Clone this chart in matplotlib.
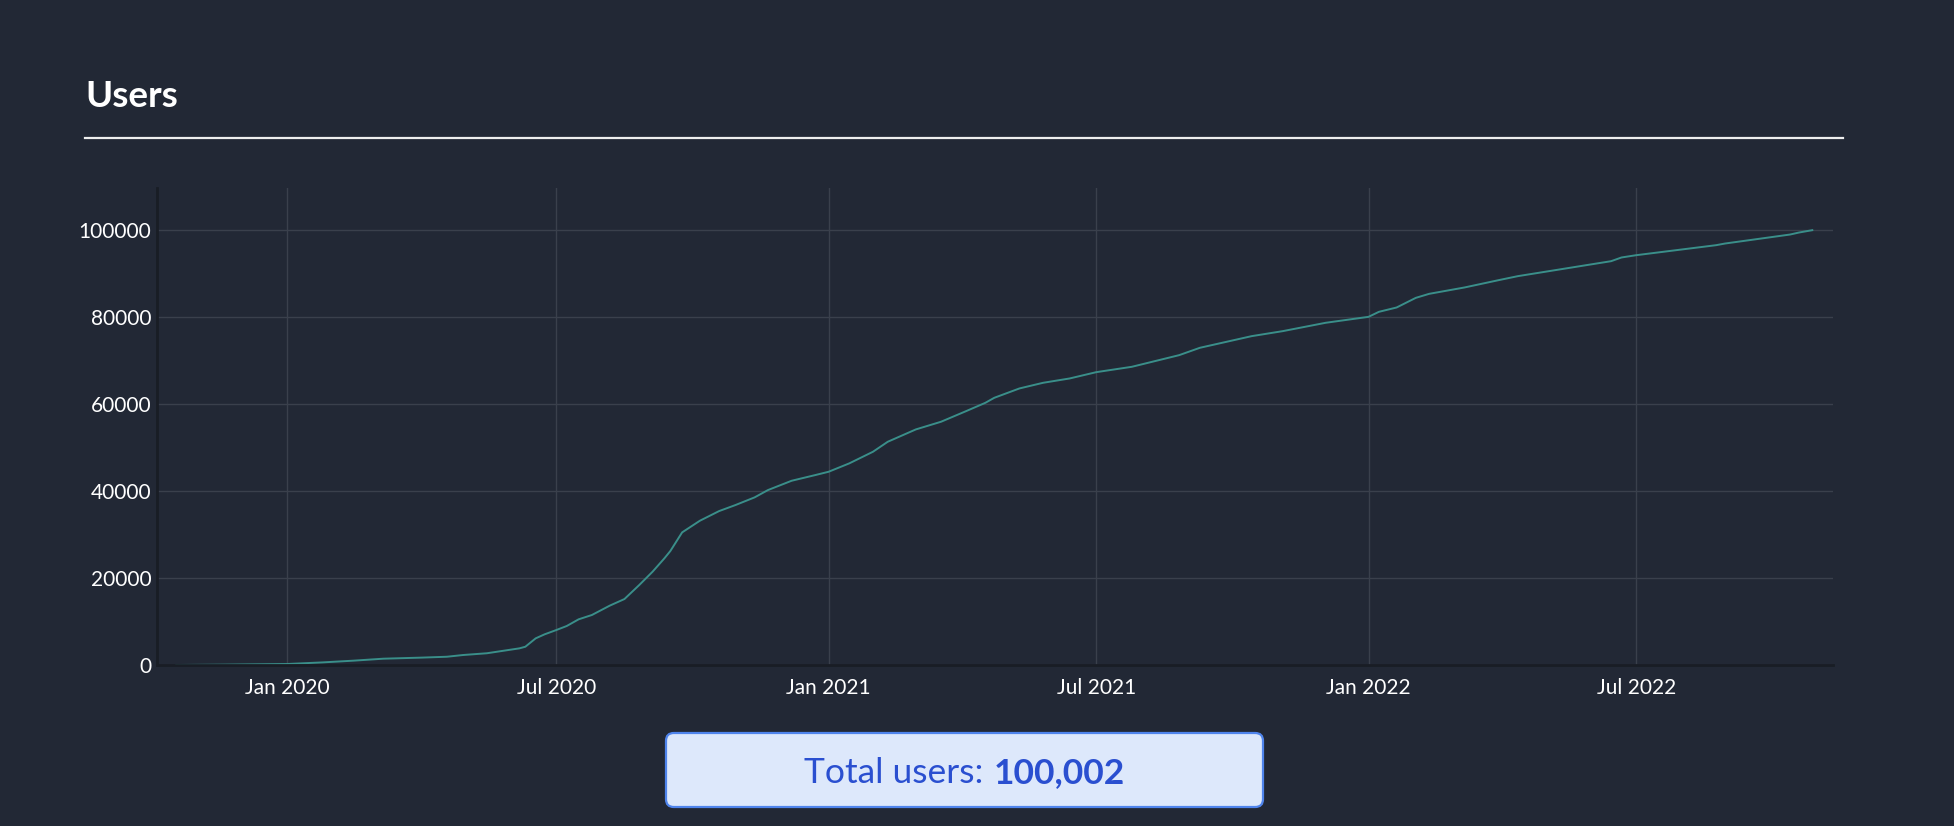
import matplotlib
matplotlib.use("Agg")
import matplotlib.pyplot as plt
import matplotlib.dates as mdates
from matplotlib.patches import FancyBboxPatch
import pandas as pd

# ---------------- data ----------------
dates = [
    "2019-10-18", "2019-11-20", "2019-12-15", "2020-01-01", "2020-01-25", "2020-02-15",
    "2020-03-06", "2020-04-01", "2020-04-18", "2020-04-29", "2020-05-15", "2020-06-06",
    "2020-06-10", "2020-06-17", "2020-06-23", "2020-07-01", "2020-07-08", "2020-07-16",
    "2020-07-25", "2020-08-06", "2020-08-16", "2020-08-26", "2020-09-04", "2020-09-12",
    "2020-09-16", "2020-09-24", "2020-10-06", "2020-10-19", "2020-10-30", "2020-11-12",
    "2020-11-21", "2020-12-07", "2020-12-23", "2021-01-01", "2021-01-15", "2021-01-31",
    "2021-02-10", "2021-03-01", "2021-03-18", "2021-04-04", "2021-04-17", "2021-04-23",
    "2021-05-10", "2021-05-26", "2021-06-13", "2021-07-01", "2021-07-25", "2021-08-26",
    "2021-09-09", "2021-10-14", "2021-11-04", "2021-12-03", "2022-01-01", "2022-01-08",
    "2022-01-20", "2022-02-02", "2022-02-11", "2022-03-07", "2022-03-30", "2022-04-12",
    "2022-06-14", "2022-06-21", "2022-07-01", "2022-08-24", "2022-08-30", "2022-10-13",
    "2022-10-19", "2022-10-28",
]
users = [
    0, 80, 170, 230, 600, 1000,
    1450, 1700, 1900, 2300, 2700, 3830,
    4200, 6130, 7050, 8050, 8970, 10500,
    11500, 13640, 15170, 18390, 21450, 24530,
    26200, 30500, 33180, 35400, 36780, 38550,
    40230, 42370, 43680, 44440, 46370, 49040,
    51340, 54180, 55940, 58390, 60300, 61450,
    63600, 64900, 65900, 67350, 68580, 71260,
    72950, 75630, 76780, 78700, 80070, 81220,
    82220, 84440, 85360, 86830, 88510, 89430,
    92870, 93720, 94250, 96550, 96930, 99000,
    99460, 100002,
]
x_ticks = ["2020-01-01", "2020-07-01", "2021-01-01", "2021-07-01", "2022-01-01", "2022-07-01"]
x_tick_labels = ["Jan 2020", "Jul 2020", "Jan 2021", "Jul 2021", "Jan 2022", "Jul 2022"]
y_ticks = [0, 20000, 40000, 60000, 80000, 100000]
title = "Users"
total_label = "Total users: "

# ---------------- style ----------------
BG = "#222835"
GRID = "#3a404c"
SPINE = "#191d25"
LINE = "#3a8f8a"
TXT = "#ffffff"
FONT = ["Lato", "DejaVu Sans"]
plt.rcParams["font.family"] = FONT

W, H = 1954, 826
fig = plt.figure(figsize=(W / 100, H / 100), dpi=100, facecolor=BG)

# axes placement (pixels)
L, R, T, B = 157, 1833, 188, 665
ax = fig.add_axes([L / W, 1 - B / H, (R - L) / W, (B - T) / H], facecolor=BG)

d = pd.to_datetime(dates)
ax.plot(d, users, color=LINE, lw=1.4, solid_joinstyle="round", zorder=3)

ax.set_xlim(pd.Timestamp("2019-10-05"), pd.Timestamp("2022-11-11"))
ax.set_ylim(0, 109700)

ax.set_xticks(pd.to_datetime(x_ticks))
ax.set_xticklabels(x_tick_labels)
ax.set_yticks(y_ticks)
ax.set_yticklabels([str(v) for v in y_ticks])

ax.grid(True, color=GRID, lw=1.0, zorder=0)
ax.tick_params(axis="both", length=0, colors=TXT, labelsize=15)
ax.tick_params(axis="y", pad=4)
ax.tick_params(axis="x", pad=9)

for s in ["top", "right"]:
    ax.spines[s].set_visible(False)
for s in ["left", "bottom"]:
    ax.spines[s].set_color(SPINE)
    ax.spines[s].set_linewidth(2)
    ax.spines[s].set_zorder(4)

# title and rule
fig.text(85 / W, 1 - 107 / H, title, color=TXT, fontsize=26.5, fontweight="bold",
         ha="left", va="baseline")
fig.add_artist(plt.Line2D([85 / W, 1843 / W], [1 - 138 / H, 1 - 138 / H],
                          color="#eeeeee", lw=1.6, transform=fig.transFigure))

# total box
bx0, bx1, by0, by1 = 666, 1263, 733, 807
box = FancyBboxPatch((bx0 / W, 1 - by1 / H), (bx1 - bx0) / W, (by1 - by0) / H,
                     boxstyle="round,pad=0,rounding_size=0.004",
                     transform=fig.transFigure, facecolor="#dde8fb",
                     edgecolor="#4f84ec", lw=1.6, mutation_aspect=W / H)
fig.add_artist(box)

val_txt = f"{users[-1]:,}"
t1 = fig.text(0, 1 - 783 / H, total_label.rstrip(), color="#2a4fd0", fontsize=25.5,
              ha="left", va="baseline")
t2 = fig.text(0, 1 - 783 / H, val_txt, color="#2a4fd0", fontsize=25.5, fontweight="bold",
              ha="left", va="baseline")
fig.canvas.draw()
r = fig.canvas.get_renderer()
w1 = t1.get_window_extent(r).width
w2 = t2.get_window_extent(r).width
gap = 11
total_w = w1 + gap + w2
cx = (bx0 + bx1) / 2
start = cx - total_w / 2
t1.set_x(start / W)
t2.set_x((start + w1 + gap) / W)

fig.savefig("out.png", dpi=100, facecolor=BG)
